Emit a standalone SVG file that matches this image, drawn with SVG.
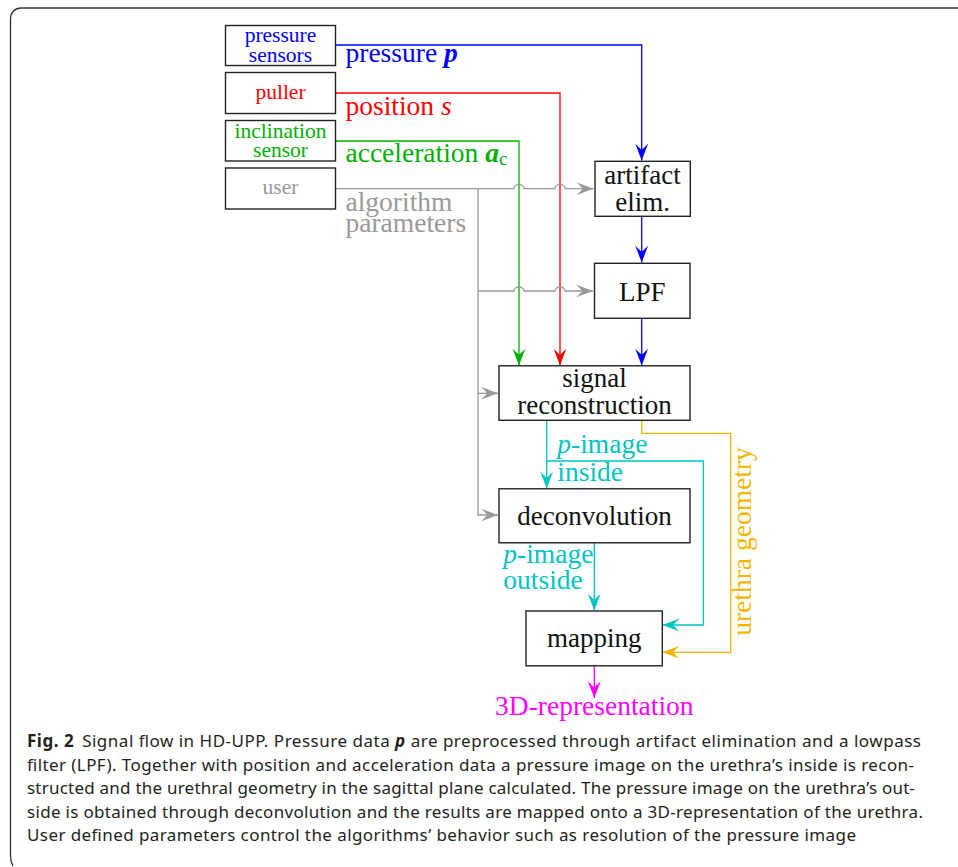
<svg xmlns="http://www.w3.org/2000/svg" width="958" height="867" viewBox="0 0 958 867">
<style>
.box{fill:#fff;stroke:#222;stroke-width:1.4}
.lbl{font-family:"Liberation Serif","Times New Roman",serif;font-size:27px;fill:#111;text-anchor:middle}
.sm{font-family:"Liberation Serif","Times New Roman",serif;font-size:21.5px;text-anchor:middle}
.big{font-family:"Liberation Serif","Times New Roman",serif;font-size:27.5px}
.ln{fill:none;stroke-width:1.3}
.cap{font-family:"Noto Sans","Open Sans",sans-serif;font-size:17px;fill:#231f20}
</style>
<defs>
<path id="ah" d="M0,0 C-4,-1.5 -12,-4.5 -17,-6.5 C-13,-2.8 -11.5,-1 -11,0 C-11.5,1 -13,2.8 -17,6.5 C-12,4.5 -4,1.5 0,0 Z"/>
<marker id="aB" markerUnits="userSpaceOnUse" orient="auto" refX="0" refY="0" markerWidth="30" markerHeight="30" overflow="visible"><use href="#ah" fill="#0000ff"/></marker>
<marker id="aR" markerUnits="userSpaceOnUse" orient="auto" refX="0" refY="0" markerWidth="30" markerHeight="30" overflow="visible"><use href="#ah" fill="#ff0000"/></marker>
<marker id="aG" markerUnits="userSpaceOnUse" orient="auto" refX="0" refY="0" markerWidth="30" markerHeight="30" overflow="visible"><use href="#ah" fill="#00b000"/></marker>
<marker id="aY" markerUnits="userSpaceOnUse" orient="auto" refX="0" refY="0" markerWidth="30" markerHeight="30" overflow="visible"><use href="#ah" fill="#999999"/></marker>
<marker id="aC" markerUnits="userSpaceOnUse" orient="auto" refX="0" refY="0" markerWidth="30" markerHeight="30" overflow="visible"><use href="#ah" fill="#00c4c4"/></marker>
<marker id="aO" markerUnits="userSpaceOnUse" orient="auto" refX="0" refY="0" markerWidth="30" markerHeight="30" overflow="visible"><use href="#ah" fill="#f2b600"/></marker>
<marker id="aM" markerUnits="userSpaceOnUse" orient="auto" refX="0" refY="0" markerWidth="30" markerHeight="30" overflow="visible"><use href="#ah" fill="#ff00ff"/></marker>
</defs>
<rect width="958" height="867" fill="#fff"/>
<path d="M958,8 H21 A10.5,10.5 0 0 0 10.5,18.5 V856 Q10.5,862 13,866" fill="none" stroke="#333" stroke-width="1.3"/>

<g id="connectors">
<path class="ln" stroke="#0000ff" d="M335.5,45 H641.7 V160.5" marker-end="url(#aB)"/>
<path class="ln" stroke="#0000ff" d="M641.7,216.5 V262.5" marker-end="url(#aB)"/>
<path class="ln" stroke="#0000ff" d="M641.7,318.5 V365.5" marker-end="url(#aB)"/>
<path class="ln" stroke="#ff0000" d="M335.5,93 H560 V365.5" marker-end="url(#aR)"/>
<path class="ln" stroke="#00b000" d="M335.5,141 H519 V365.5" marker-end="url(#aG)"/>
<path class="ln" stroke="#999999" d="M335.5,188.7 H514 a5,4 0 0 1 10,0 H555 a5,4 0 0 1 10,0 H593.5" marker-end="url(#aY)"/>
<path class="ln" stroke="#999999" d="M478,188.7 V515 H498" marker-end="url(#aY)"/>
<path class="ln" stroke="#999999" d="M478,291 H514 a5,4 0 0 1 10,0 H555 a5,4 0 0 1 10,0 H593" marker-end="url(#aY)"/>
<path class="ln" stroke="#999999" d="M478,393.3 H498" marker-end="url(#aY)"/>
<path class="ln" stroke="#00c4c4" d="M546.7,420.5 V488.5" marker-end="url(#aC)"/>
<path class="ln" stroke="#00c4c4" d="M546.7,461 H703.3 V625 H662.5" marker-end="url(#aC)"/>
<path class="ln" stroke="#f2b600" d="M641.7,420.5 V433.3 H730.7 V652.3 H662.5" marker-end="url(#aO)"/>
<path class="ln" stroke="#00c4c4" d="M594.3,543 V610.5" marker-end="url(#aC)"/>
<path class="ln" stroke="#ff00ff" d="M594.3,666 V698" marker-end="url(#aM)"/>
</g>

<g id="pressure-sensors">
<rect class="box" x="225.5" y="25.5" width="110" height="40"/>
<text class="sm" x="280.5" y="41.5" fill="#0000ff">pressure</text>
<text class="sm" x="280.5" y="61.8" fill="#0000ff">sensors</text>
</g>
<g id="puller">
<rect class="box" x="225.5" y="72.5" width="110" height="41"/>
<text class="sm" x="280.5" y="99" fill="#ff0000">puller</text>
</g>
<g id="inclination-sensor">
<rect class="box" x="225.5" y="120.5" width="110" height="40.5"/>
<text class="sm" x="280.5" y="137.8" fill="#00b000">inclination</text>
<text class="sm" x="280.5" y="157.3" fill="#00b000">sensor</text>
</g>
<g id="user">
<rect class="box" x="225.5" y="168" width="110" height="41"/>
<text class="sm" x="280.5" y="193.5" fill="#999999">user</text>
</g>

<g id="edge-labels">
<text class="big" x="345.5" y="62.3" fill="#0000ff">pressure <tspan font-weight="bold" font-style="italic">p</tspan></text>
<text class="big" x="345.5" y="114.5" fill="#ff0000">position <tspan font-style="italic">s</tspan></text>
<text class="big" x="345.5" y="161.7" fill="#00b000">acceleration <tspan font-weight="bold" font-style="italic">a</tspan><tspan font-size="19" dy="3">c</tspan></text>
<text class="big" x="345.5" y="211" fill="#999999">algorithm</text>
<text class="big" x="345.5" y="232.3" fill="#999999">parameters</text>
<text class="big" x="557.3" y="453.3" fill="#00c4c4"><tspan font-style="italic">p</tspan>-image</text>
<text class="big" x="557.3" y="480.7" fill="#00c4c4">inside</text>
<text class="big" x="503.3" y="562.7" fill="#00c4c4"><tspan font-style="italic">p</tspan>-image</text>
<text class="big" x="503.3" y="589" fill="#00c4c4">outside</text>
<text class="big" x="751" y="541.5" fill="#f2b600" text-anchor="middle" transform="rotate(-90 751 541.5)">urethra geometry</text>
<text class="big" x="594.3" y="715" fill="#ff00ff" text-anchor="middle">3D-representation</text>
</g>

<g id="artifact-elim">
<rect class="box" x="595" y="161.3" width="95.3" height="55"/>
<text class="lbl" x="642.6" y="184.3">artifact</text>
<text class="lbl" x="642.6" y="211">elim.</text>
</g>
<g id="lpf">
<rect class="box" x="594.5" y="263.3" width="95.5" height="55"/>
<text class="lbl" x="642.2" y="300.5">LPF</text>
</g>
<g id="signal-reconstruction">
<rect class="box" x="499" y="365.8" width="191" height="54.5"/>
<text class="lbl" x="594.5" y="386.7">signal</text>
<text class="lbl" x="594.5" y="414">reconstruction</text>
</g>
<g id="deconvolution">
<rect class="box" x="499" y="488.8" width="191" height="54"/>
<text class="lbl" x="594.5" y="525">deconvolution</text>
</g>
<g id="mapping">
<rect class="box" x="526" y="611" width="136.3" height="54.8"/>
<text class="lbl" x="594.2" y="647">mapping</text>
</g>

<g id="caption">
<text class="cap" x="27" y="747" textLength="894" lengthAdjust="spacing"><tspan font-weight="bold">Fig. 2</tspan><tspan dx="8">Signal flow in HD-UPP. Pressure data </tspan><tspan font-weight="bold" font-style="italic">p</tspan> are preprocessed through artifact elimination and a lowpass</text>
<text class="cap" x="27" y="770.5" textLength="887" lengthAdjust="spacing">filter (LPF). Together with position and acceleration data a pressure image on the urethra’s inside is recon-</text>
<text class="cap" x="27" y="794" textLength="888" lengthAdjust="spacing">structed and the urethral geometry in the sagittal plane calculated. The pressure image on the urethra’s out-</text>
<text class="cap" x="27" y="817.5" textLength="896" lengthAdjust="spacing">side is obtained through deconvolution and the results are mapped onto a 3D-representation of the urethra.</text>
<text class="cap" x="27" y="841" textLength="829" lengthAdjust="spacing">User defined parameters control the algorithms’ behavior such as resolution of the pressure image</text>
</g>
</svg>
